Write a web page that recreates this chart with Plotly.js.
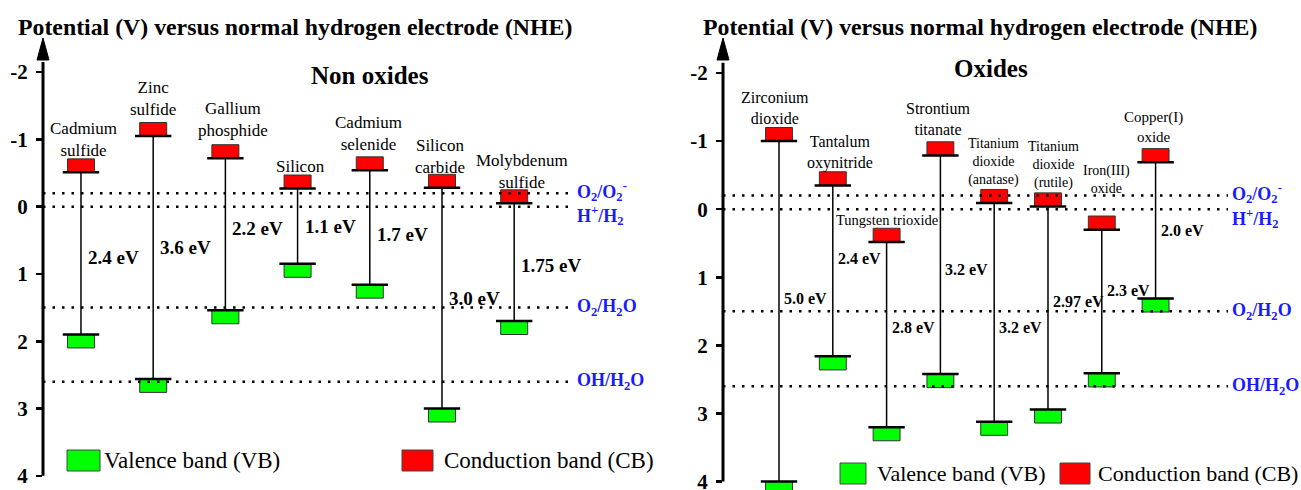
<!DOCTYPE html>
<html><head><meta charset="utf-8">
<script src="https://cdn.plot.ly/plotly-3.0.1.min.js"></script>
<style>html,body{margin:0;padding:0;background:#fff}#chart{width:1301px;height:490px}</style>
</head><body><div id="chart"></div>
<script>
// ---------- DATA: Non oxides (left) ----------
const leftNames = ['Cadmium<br>sulfide','Zinc<br>sulfide','Gallium<br>phosphide','Silicon','Cadmium<br>selenide','Silicon<br>carbide','Molybdenum<br>sulfide'];
const leftCB = [-0.51, -1.05, -0.72, -0.27, -0.54, -0.28, -0.05];
const leftVB = [1.90, 2.56, 1.54, 0.85, 1.16, 3.00, 1.70];
const leftGapText = ['2.4 eV','3.6 eV','2.2 eV','1.1 eV','1.7 eV','3.0 eV','1.75 eV'];
const leftGapLabelY = [0.76, 0.60, 0.32, 0.29, 0.42, 1.36, 0.87];
const leftNameY = [-1.00, -1.607, -1.288, -0.59, -1.087, -0.746, -0.523];

// ---------- DATA: Oxides (right) ----------
const rightNames = ['Zirconium<br>dioxide','Tantalum<br>oxynitride','Tungsten trioxide','Strontium<br>titanate','Titanium<br>dioxide<br>(anatase)','Titanium<br>dioxide<br>(rutile)','Iron(III)<br>oxide','Copper(I)<br>oxide'];
const rightCB = [-1.00, -0.35, 0.48, -0.79, -0.09, -0.04, 0.30, -0.69];
const rightVB = [4.00, 2.16, 3.20, 2.42, 3.12, 2.94, 2.41, 1.31];
const rightGapText = ['5.0 eV','2.4 eV','2.8 eV','3.2 eV','3.2 eV','2.97 eV','2.3 eV','2.0 eV'];
const rightGapLabelY = [1.31, 0.72, 1.73, 0.89, 1.73, 1.36, 1.19, 0.31];
const rightNameY = [-1.493, -0.833, 0.159, -1.322, -0.689, -0.649, -0.443, -1.211];

// ---------- Redox reference levels ----------
const refLevels = [-0.2, 0, 1.5, 2.6];
const refLabels = ['O<sub>2</sub>/O<sub>2</sub><sup>-</sup>','H<sup>+</sup>/H<sub>2</sub>','O<sub>2</sub>/H<sub>2</sub>O','OH/H<sub>2</sub>O'];

// ---------- Axis ticks ----------
const tickVals = [-2, -1, 0, 1, 2, 3, 4];
const tickText = ['-2', '-1', '0', '1', '2', '3', '4'];

// ---------- styling / layout helpers ----------
const W = 1301, H = 490;
const FONT = "'Liberation Serif', serif";
const PX = v => v / W;
const PY = v => 1 - v / H;
const BOX_H = 0.2;
const leftNameShift = [3, 0, 8, 3, -1, -2, 8];
const rightNameShift = [-4, 7, 0, -2, -1, 6, 5, -2];
const rightNameSize = [16, 16, 14.5, 16, 14, 14, 14, 15];
const refLabelShift = [2, -9, 0, 0];

const traces = [];
const annotations = [];
const shapes = [];

function buildPanel(o) {
  const idx = o.cb.map((_, i) => i);
  traces.push({
    type: 'scatter', mode: 'lines', xaxis: o.xa, yaxis: o.ya, hoverinfo: 'skip', showlegend: false,
    x: idx.flatMap(i => [i, i, null]),
    y: idx.flatMap(i => [o.cb[i], o.vb[i], null]),
    line: {color: '#000', width: 1.5}
  });
  traces.push({
    type: 'bar', xaxis: o.xa, yaxis: o.ya, hoverinfo: 'skip', showlegend: false,
    x: idx, base: o.cb, y: o.cb.map(() => -BOX_H), width: o.boxW,
    marker: {color: '#ff0000', line: {color: '#333', width: 1}}
  });
  traces.push({
    type: 'bar', xaxis: o.xa, yaxis: o.ya, hoverinfo: 'skip', showlegend: false,
    x: idx, base: o.vb, y: o.vb.map(() => BOX_H), width: o.boxW,
    marker: {color: '#00ff00', line: {color: '#333', width: 1}}
  });
  traces.push({
    type: 'scatter', mode: 'markers', xaxis: o.xa, yaxis: o.ya, hoverinfo: 'skip', showlegend: false,
    x: idx.concat(idx), y: o.cb.concat(o.vb),
    marker: {symbol: 'line-ew', size: 26, color: '#000', line: {color: '#000', width: 2.5}}
  });
  idx.forEach(i => {
    annotations.push({
      xref: o.xa, yref: o.ya, x: i, y: o.nameY[i], xshift: o.nameShift[i],
      text: o.names[i], showarrow: false, xanchor: 'center', yanchor: 'middle', align: 'center',
      font: {family: FONT, size: o.nameSize[i], color: '#000'}
    });
    annotations.push({
      xref: o.xa, yref: o.ya, x: i, y: o.gapY[i], xshift: o.gapShift,
      text: o.gapText[i], showarrow: false, xanchor: 'left', yanchor: 'middle',
      font: {family: FONT, size: o.gapSize, color: '#000', weight: 'bold'}
    });
  });
  refLevels.forEach((lv, k) => {
    shapes.push({
      type: 'line', xref: o.xa, yref: o.ya, x0: o.axisMin, x1: o.dotEnd, y0: lv, y1: lv,
      line: {color: '#000', width: 2.5, dash: '2.5px,7px'}
    });
    annotations.push({
      xref: o.xa, yref: o.ya, x: o.dotEnd, y: lv, xshift: 2, yshift: refLabelShift[k],
      text: refLabels[k], showarrow: false, xanchor: 'left', yanchor: 'middle',
      font: {family: FONT, size: 18, color: '#1a1aff', weight: 'bold'}
    });
  });
  // axis line and arrow head
  shapes.push({type: 'line', xref: 'paper', yref: o.ya, x0: PX(o.axisPx), x1: PX(o.axisPx), y0: 4, y1: o.axisTop,
    line: {color: '#000', width: 3}});
  shapes.push({type: 'path', xref: 'paper', yref: 'paper',
    path: `M ${PX(o.axisPx)} ${PY(38)} L ${PX(o.axisPx - 6)} ${PY(60)} L ${PX(o.axisPx + 6)} ${PY(60)} Z`,
    fillcolor: '#000', line: {color: '#000', width: 1}});
}

buildPanel({names: leftNames, cb: leftCB, vb: leftVB, gapText: leftGapText, gapY: leftGapLabelY,
  nameY: leftNameY, nameShift: leftNameShift, nameSize: leftNames.map(() => 17),
  xa: 'x', ya: 'y', boxW: 0.374, gapSize: 19, gapShift: 5, axisMin: -0.526, dotEnd: 6.814,
  axisPx: 43, axisTop: -2.15});
buildPanel({names: rightNames, cb: rightCB, vb: rightVB, gapText: rightGapText, gapY: rightGapLabelY,
  nameY: rightNameY, nameShift: rightNameShift, nameSize: rightNameSize,
  xa: 'x2', ya: 'y2', boxW: 0.5, gapSize: 16, gapShift: 3, axisMin: -1.041, dotEnd: 8.346,
  axisPx: 723, axisTop: -2.15});

// titles
const titleText = 'Potential (V) versus normal hydrogen electrode (NHE)';
annotations.push({xref: 'paper', yref: 'paper', x: PX(295), y: PY(27), text: titleText, showarrow: false,
  xanchor: 'center', yanchor: 'middle', font: {family: FONT, size: 23.8, color: '#000', weight: 'bold'}});
annotations.push({xref: 'paper', yref: 'paper', x: PX(980), y: PY(27), text: titleText, showarrow: false,
  xanchor: 'center', yanchor: 'middle', font: {family: FONT, size: 23.8, color: '#000', weight: 'bold'}});
annotations.push({xref: 'paper', yref: 'paper', x: PX(370), y: PY(75), text: 'Non oxides', showarrow: false,
  xanchor: 'center', yanchor: 'middle', font: {family: FONT, size: 25, color: '#000', weight: 'bold'}});
annotations.push({xref: 'paper', yref: 'paper', x: PX(991), y: PY(68), text: 'Oxides', showarrow: false,
  xanchor: 'center', yanchor: 'middle', font: {family: FONT, size: 25, color: '#000', weight: 'bold'}});

// legends
function legendItem(x0, x1, y0, y1, color, label, tx, size) {
  shapes.push({type: 'rect', xref: 'paper', yref: 'paper', x0: PX(x0), x1: PX(x1), y0: PY(y1), y1: PY(y0),
    fillcolor: color, line: {color: '#444', width: 1}});
  annotations.push({xref: 'paper', yref: 'paper', x: PX(tx), y: PY((y0 + y1) / 2), text: label, showarrow: false,
    xanchor: 'left', yanchor: 'middle', font: {family: FONT, size: size, color: '#000'}});
}
legendItem(67, 100, 450, 471, '#00ff00', 'Valence band (VB)', 102, 23);
legendItem(402, 433, 450, 471, '#ff0000', 'Conduction band (CB)', 442, 23);
legendItem(840, 866, 463, 484, '#00ff00', 'Valence band (VB)', 875, 22);
legendItem(1060, 1090, 463, 484, '#ff0000', 'Conduction band (CB)', 1096, 22);

const yaxisBase = {
  tickmode: 'array', tickvals: tickVals, ticktext: tickText, ticks: 'outside', ticklen: 6, tickwidth: 2.5,
  tickcolor: '#000', showline: false, showgrid: false, zeroline: false, fixedrange: true,
  ticklabelstandoff: 4, ticklabeloverflow: 'allow',
  tickfont: {family: FONT, size: 21, color: '#000', weight: 'bold'}
};

const layout = {
  width: W, height: H, margin: {l: 0, r: 0, t: 0, b: 0},
  paper_bgcolor: '#fff', plot_bgcolor: 'rgba(0,0,0,0)',
  font: {family: FONT, color: '#000'},
  barmode: 'overlay', showlegend: false,
  xaxis: {domain: [43 / W, 650 / W], range: [-0.526, 7.881], visible: false, anchor: 'y', fixedrange: true},
  yaxis: Object.assign({domain: [0, 1], range: [4.21, -3.07], anchor: 'x'}, yaxisBase),
  xaxis2: {domain: [723 / W, 1], range: [-1.041, 9.703], visible: false, anchor: 'y2', fixedrange: true},
  yaxis2: Object.assign({domain: [0, 1], range: [4.123, -3.072], anchor: 'x2'}, yaxisBase),
  annotations: annotations, shapes: shapes
};

Plotly.newPlot('chart', traces, layout, {displayModeBar: false, staticPlot: true});
</script>
</body></html>
